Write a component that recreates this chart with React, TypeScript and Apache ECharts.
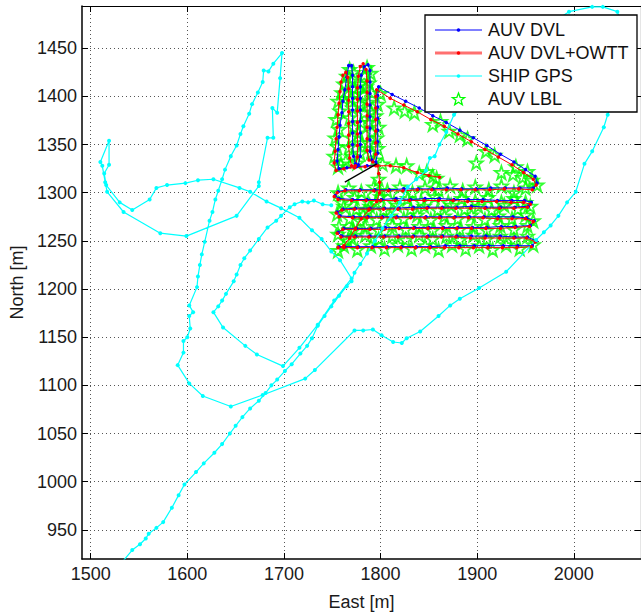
import React, { useEffect, useRef } from "react";
import * as echarts from "echarts";

const FONT = "'Liberation Sans', Arial, Helvetica, sans-serif";

const xTicks = [1500, 1600, 1700, 1800, 1900, 2000];
const yTicks = [950, 1000, 1050, 1100, 1150, 1200, 1250, 1300, 1350, 1400, 1450];
const xRange = [1491, 2069.5];
const yRange = [919.7, 1493.9];

const seriesNames = ["AUV DVL", "AUV DVL+OWTT", "SHIP GPS", "AUV LBL"];

const shipGps: number[][] = [
  [1533, 917], [1543, 929], [1551, 935], [1557, 941], [1560, 946], [1568, 952], [1575, 958], [1584, 973],
  [1591, 986], [1597, 997], [1609, 1010], [1617, 1019], [1628, 1030], [1636, 1039], [1644, 1050], [1650, 1058],
  [1657, 1067], [1665, 1076], [1674, 1084], [1681, 1092], [1687, 1100], [1693, 1106], [1701, 1115], [1708, 1122],
  [1717, 1133], [1724, 1141], [1729, 1149], [1735, 1162], [1742, 1172], [1749, 1182], [1757, 1193], [1765, 1203],
  [1770, 1208], [1773, 1217], [1779, 1226], [1786, 1237], [1794, 1250], [1802, 1263], [1811, 1276], [1820, 1290],
  [1828, 1306], [1837, 1314], [1847, 1323], [1851, 1336], [1856, 1338], [1861, 1350], [1868, 1363], [1876, 1381],
  [1892, 1397], [1908, 1412], [1923, 1426], [1939, 1441], [1954, 1456], [1967, 1468], [1980, 1478], [1995, 1488],
  [2019, 1493], [2030, 1493], [2045, 1488], [2053, 1464], [2049, 1428], [2042, 1402], [2035, 1381], [2031, 1368],
  [2019, 1343], [2011, 1330], [2002, 1301], [1993, 1290], [1984, 1276], [1976, 1266], [1969, 1259], [1961, 1251],
  [1930, 1218], [1902, 1201], [1882, 1190], [1872, 1183], [1860, 1172], [1841, 1156], [1827, 1149], [1822, 1144],
  [1813, 1145], [1801, 1152], [1792, 1158], [1782, 1157], [1773, 1157], [1732, 1116], [1722, 1107], [1678, 1090],
  [1645, 1078], [1616, 1089], [1602, 1102], [1590, 1121], [1596, 1134], [1596, 1146], [1600, 1150], [1603, 1159],
  [1602, 1172], [1606, 1176], [1602, 1183], [1610, 1202], [1611, 1213], [1613, 1225], [1615, 1236], [1618, 1249],
  [1623, 1271], [1626, 1280], [1629, 1293], [1632, 1302], [1636, 1314], [1639, 1324], [1645, 1338], [1651, 1349],
  [1655, 1361], [1658, 1369], [1664, 1382], [1667, 1392], [1673, 1404], [1678, 1415], [1679, 1427], [1684, 1426],
  [1689, 1434], [1698, 1445], [1696, 1419], [1693, 1383], [1688, 1388], [1689, 1357], [1683, 1357], [1674, 1311],
  [1674, 1307], [1651, 1276], [1599, 1255], [1572, 1258], [1534, 1280], [1517, 1301], [1515, 1311], [1512, 1328],
  [1510, 1332], [1519, 1354], [1519, 1329], [1514, 1320], [1516, 1308], [1530, 1290], [1543, 1282], [1561, 1293],
  [1568, 1305], [1579, 1308], [1598, 1310], [1611, 1313], [1627, 1314], [1654, 1305], [1665, 1301], [1682, 1291],
  [1697, 1284], [1716, 1274], [1729, 1261], [1739, 1252], [1749, 1239], [1758, 1230], [1770, 1211], [1752, 1188],
  [1735, 1163], [1716, 1139], [1699, 1120], [1672, 1132], [1660, 1141], [1637, 1160], [1627, 1176], [1632, 1182],
  [1636, 1188], [1640, 1195], [1648, 1208], [1651, 1215], [1655, 1225], [1659, 1232], [1665, 1240], [1674, 1252],
  [1683, 1264], [1692, 1271], [1697, 1276], [1706, 1285], [1711, 1288], [1719, 1291], [1725, 1290], [1731, 1292],
  [1740, 1288], [1749, 1287],
];

const auvDvl: number[][] = [
  [1796, 1329], [1786, 1328], [1775, 1327], [1765, 1326], [1757, 1325], [1755, 1333], [1756, 1345], [1757, 1358],
  [1758, 1370], [1760, 1383], [1761, 1395], [1763, 1407], [1765, 1420], [1767, 1432], [1770, 1432], [1771, 1422],
  [1771, 1410], [1771, 1398], [1771, 1386], [1771, 1374], [1771, 1362], [1771, 1350], [1772, 1338], [1774, 1330],
  [1777, 1329], [1779, 1338], [1779, 1350], [1779, 1362], [1779, 1374], [1779, 1386], [1779, 1398], [1779, 1410],
  [1780, 1422], [1783, 1431], [1787, 1433], [1789, 1427], [1789, 1415], [1789, 1403], [1789, 1391], [1789, 1379],
  [1789, 1367], [1789, 1355], [1789, 1343], [1791, 1334], [1795, 1332], [1797, 1341], [1797, 1353], [1797, 1365],
  [1797, 1377], [1797, 1389], [1797, 1401], [1798, 1410],
  [1812, 1402], [1826, 1395], [1840, 1388], [1854, 1380], [1868, 1373], [1882, 1365], [1896, 1357], [1910, 1349],
  [1924, 1340], [1938, 1332], [1950, 1324], [1960, 1317], [1962, 1310], [1958, 1305],
  [1944, 1305], [1929, 1305], [1914, 1305], [1899, 1304], [1884, 1304], [1869, 1305], [1854, 1304], [1839, 1304],
  [1824, 1304], [1809, 1303], [1794, 1303], [1779, 1303], [1764, 1303], [1756, 1301], [1753, 1297], [1757, 1294],
  [1771, 1293], [1786, 1293], [1801, 1293], [1816, 1294], [1831, 1293], [1846, 1294], [1861, 1294], [1876, 1293],
  [1891, 1293], [1906, 1293], [1921, 1292], [1936, 1292], [1949, 1292], [1956, 1290], [1953, 1286],
  [1939, 1285], [1924, 1285], [1909, 1285], [1894, 1286], [1879, 1285], [1864, 1285], [1849, 1285], [1834, 1285],
  [1819, 1284], [1804, 1284], [1789, 1284], [1774, 1284], [1761, 1283], [1755, 1280], [1758, 1276],
  [1772, 1275], [1787, 1275], [1802, 1275], [1817, 1275], [1832, 1275], [1847, 1275], [1862, 1275], [1877, 1275],
  [1892, 1275], [1907, 1275], [1922, 1275], [1937, 1275], [1951, 1274], [1959, 1271], [1955, 1266],
  [1940, 1265], [1925, 1265], [1910, 1264], [1895, 1264], [1880, 1264], [1865, 1264], [1850, 1264], [1835, 1264],
  [1820, 1264], [1805, 1264], [1790, 1263], [1775, 1263], [1762, 1263], [1756, 1259], [1760, 1255],
  [1774, 1255], [1789, 1255], [1804, 1255], [1819, 1255], [1834, 1255], [1849, 1255], [1864, 1255], [1879, 1255],
  [1894, 1255], [1909, 1255], [1924, 1255], [1939, 1254], [1952, 1254], [1961, 1250], [1957, 1245],
  [1942, 1245], [1927, 1245], [1912, 1245], [1897, 1245], [1882, 1245], [1867, 1245], [1852, 1244], [1837, 1244],
  [1822, 1244], [1807, 1244], [1792, 1244], [1777, 1244], [1763, 1244], [1757, 1244],
];

const auvDvlOwtt: number[][] = [
  [1795, 1328], [1784, 1327], [1773, 1326], [1762, 1325], [1754, 1323], [1752, 1331], [1753, 1343], [1754, 1356],
  [1755, 1368], [1756, 1381], [1757, 1393], [1758, 1405], [1759, 1415], [1761, 1422], [1764, 1425], [1766, 1420],
  [1767, 1408], [1767, 1396], [1767, 1384], [1767, 1372], [1767, 1360], [1767, 1348], [1768, 1336], [1770, 1328],
  [1774, 1328], [1776, 1337], [1776, 1349], [1776, 1361], [1776, 1373], [1776, 1385], [1776, 1397], [1776, 1409],
  [1777, 1421], [1779, 1431], [1782, 1434], [1785, 1428], [1786, 1416], [1786, 1404], [1786, 1392], [1786, 1380],
  [1786, 1368], [1786, 1356], [1786, 1344], [1788, 1334], [1792, 1332], [1795, 1340], [1795, 1352], [1795, 1364],
  [1795, 1376], [1795, 1388], [1795, 1400], [1796, 1407],
  [1810, 1398], [1824, 1391], [1838, 1384], [1852, 1376], [1866, 1369], [1880, 1361], [1894, 1353], [1908, 1345],
  [1922, 1337], [1936, 1329], [1948, 1321], [1958, 1314], [1961, 1308], [1957, 1303],
  [1943, 1304], [1928, 1304], [1913, 1303], [1898, 1303], [1883, 1303], [1868, 1303], [1853, 1303], [1838, 1303],
  [1823, 1302], [1808, 1302], [1793, 1302], [1778, 1302], [1763, 1302], [1755, 1300], [1752, 1296], [1756, 1293],
  [1770, 1292], [1785, 1292], [1800, 1292], [1815, 1292], [1830, 1292], [1845, 1292], [1860, 1292], [1875, 1292],
  [1890, 1291], [1905, 1291], [1920, 1291], [1935, 1290], [1948, 1290], [1955, 1288], [1952, 1285],
  [1938, 1284], [1923, 1284], [1908, 1284], [1893, 1284], [1878, 1284], [1863, 1284], [1848, 1284], [1833, 1283],
  [1818, 1283], [1803, 1283], [1788, 1283], [1773, 1283], [1760, 1282], [1754, 1279], [1757, 1275],
  [1771, 1274], [1786, 1274], [1801, 1274], [1816, 1274], [1831, 1274], [1846, 1274], [1861, 1274], [1876, 1274],
  [1891, 1274], [1906, 1274], [1921, 1273], [1936, 1273], [1950, 1273], [1958, 1270], [1954, 1265],
  [1939, 1264], [1924, 1263], [1909, 1263], [1894, 1263], [1879, 1263], [1864, 1263], [1849, 1263], [1834, 1263],
  [1819, 1263], [1804, 1262], [1789, 1262], [1774, 1262], [1761, 1262], [1755, 1258], [1759, 1254],
  [1773, 1254], [1788, 1254], [1803, 1254], [1818, 1254], [1833, 1254], [1848, 1254], [1863, 1254], [1878, 1254],
  [1893, 1253], [1908, 1253], [1923, 1253], [1938, 1253], [1951, 1253], [1960, 1249], [1956, 1244],
  [1941, 1243], [1926, 1243], [1911, 1243], [1896, 1243], [1881, 1243], [1866, 1243], [1851, 1243], [1836, 1243],
  [1821, 1243], [1806, 1243], [1791, 1243], [1776, 1243], [1762, 1243], [1756, 1243],
  [1762, 1245], [1768, 1253], [1774, 1263], [1780, 1273], [1788, 1282], [1796, 1291], [1799, 1300], [1799, 1311],
  [1798, 1320], [1797, 1328], [1810, 1328], [1824, 1326], [1838, 1321], [1850, 1318], [1861, 1316],
];

const auvLbl: number[][] = [
  [1756, 1327], [1759, 1330], [1752, 1338], [1755, 1348], [1753, 1357], [1757, 1366], [1754, 1376], [1758, 1385],
  [1756, 1395], [1760, 1404], [1762, 1413], [1765, 1421], [1768, 1428], [1772, 1425], [1770, 1416], [1773, 1408],
  [1769, 1398], [1771, 1388], [1768, 1378], [1772, 1368], [1770, 1357], [1767, 1347], [1771, 1338], [1776, 1331],
  [1779, 1341], [1781, 1352], [1777, 1362], [1780, 1373], [1783, 1383], [1778, 1392], [1781, 1402], [1779, 1413],
  [1783, 1422], [1786, 1430], [1790, 1424], [1788, 1414], [1791, 1404], [1787, 1394], [1790, 1384], [1788, 1373],
  [1791, 1363], [1787, 1352], [1790, 1342], [1794, 1334], [1797, 1346], [1796, 1357], [1798, 1368], [1795, 1380],
  [1797, 1392], [1800, 1403], [1762, 1398], [1775, 1403], [1785, 1410], [1764, 1333],
  [1814, 1388], [1825, 1385], [1835, 1383], [1854, 1371], [1862, 1374], [1871, 1364], [1882, 1360], [1890, 1356],
  [1899, 1331], [1909, 1343], [1918, 1339], [1925, 1321], [1937, 1319], [1940, 1327], [1947, 1316], [1952, 1322],
  [1957, 1313], [1962, 1308],
  [1802, 1330], [1816, 1328], [1827, 1328], [1840, 1320], [1848, 1322], [1854, 1317], [1858, 1315],
  [1950, 1305], [1938, 1300], [1925, 1307], [1912, 1303], [1898, 1306], [1885, 1302], [1872, 1307], [1860, 1303],
  [1846, 1305], [1833, 1300], [1820, 1306], [1807, 1302], [1793, 1306], [1780, 1301], [1767, 1305], [1756, 1300],
  [1760, 1290], [1773, 1295], [1787, 1291], [1800, 1296], [1814, 1290], [1828, 1294], [1842, 1291], [1856, 1296],
  [1870, 1290], [1884, 1294], [1898, 1291], [1911, 1295], [1925, 1290], [1938, 1294], [1950, 1290],
  [1955, 1286], [1942, 1283], [1928, 1287], [1915, 1282], [1901, 1286], [1887, 1283], [1873, 1287], [1859, 1282],
  [1845, 1286], [1831, 1283], [1817, 1287], [1803, 1282], [1789, 1286], [1775, 1283], [1762, 1286],
  [1755, 1278], [1768, 1273], [1782, 1277], [1796, 1272], [1810, 1276], [1824, 1273], [1838, 1277], [1852, 1272],
  [1866, 1276], [1880, 1273], [1894, 1277], [1908, 1272], [1922, 1276], [1936, 1273], [1950, 1277], [1958, 1271],
  [1952, 1266], [1938, 1262], [1924, 1266], [1910, 1261], [1896, 1265], [1882, 1262], [1868, 1266], [1854, 1261],
  [1840, 1265], [1826, 1262], [1812, 1266], [1798, 1261], [1784, 1265], [1770, 1262], [1757, 1265],
  [1756, 1257], [1770, 1253], [1784, 1256], [1798, 1252], [1812, 1255], [1826, 1251], [1840, 1256], [1854, 1252],
  [1868, 1255], [1882, 1251], [1896, 1256], [1910, 1252], [1924, 1255], [1938, 1251], [1952, 1255],
  [1958, 1246], [1944, 1242], [1930, 1246], [1916, 1241], [1902, 1245], [1888, 1242], [1874, 1246], [1860, 1241],
  [1846, 1245], [1832, 1242], [1818, 1246], [1804, 1242], [1790, 1245], [1776, 1241], [1762, 1245], [1756, 1240],
  [1766, 1250], [1772, 1261], [1779, 1271], [1787, 1281], [1795, 1290], [1799, 1302], [1798, 1314],
];

const arrowStart = [1763, 1311];
const arrowEnd = [1796, 1330];

const STAR =
  "path://M50,0 L61.8,34.5 L97.6,34.5 L68.8,56 L79.4,90.5 L50,69 L20.6,90.5 L31.2,56 L2.4,34.5 L38.2,34.5 Z";

function starPoints(cx: number, cy: number, r: number): number[][] {
  const pts: number[][] = [];
  for (let i = 0; i < 10; i++) {
    const a = -Math.PI / 2 + (i * Math.PI) / 5;
    const rr = i % 2 === 0 ? r : r * 0.42;
    pts.push([cx + rr * Math.cos(a), cy + rr * Math.sin(a)]);
  }
  return pts;
}

export default function App() {
  const ref = useRef<HTMLDivElement>(null);

  useEffect(() => {
    if (!ref.current) return;
    const chart = echarts.init(ref.current, null, { renderer: "svg" });

    const gridLine = { show: true, lineStyle: { color: "#555", width: 1, type: [1, 3] as any } };
    const label = { fontSize: 18, color: "#1a1a1a", fontFamily: FONT };
    const plain = (v: number) => String(v);

    const legendRows = [30, 53, 76, 99];
    const legendColors = ["#0000ff", "#ff0000", "#00ffff"];
    const legendLineColors = ["#0000ff", "#ff7070", "#00ffff"];
    const legendLineWidths = [1, 3, 1];
    const legendChildren: any[] = [
      {
        type: "rect",
        shape: { x: 425, y: 15, width: 212, height: 97 },
        style: { fill: "#fff", stroke: "#000", lineWidth: 1.3 },
        z: 100,
      },
    ];
    for (let i = 0; i < 3; i++) {
      legendChildren.push({
        type: "line",
        shape: { x1: 435, y1: legendRows[i], x2: 482, y2: legendRows[i] },
        style: { stroke: legendLineColors[i], lineWidth: legendLineWidths[i] },
        z: 101,
      });
      legendChildren.push({
        type: "circle",
        shape: { cx: 458.5, cy: legendRows[i], r: 1.8 },
        style: { fill: legendColors[i] },
        z: 102,
      });
    }
    legendChildren.push({
      type: "polygon",
      shape: { points: starPoints(458.5, legendRows[3] + 0.5, 6.5) },
      style: { fill: "none", stroke: "#00ff00", lineWidth: 1.3 },
      z: 102,
    });
    seriesNames.forEach((n, i) => {
      legendChildren.push({
        type: "text",
        x: 488,
        y: legendRows[i],
        style: {
          text: n,
          fontSize: 18,
          fontFamily: FONT,
          fill: "#111",
          verticalAlign: "middle",
        },
        z: 102,
      });
    });

    const option: any = {
      animation: false,
      backgroundColor: "#fff",
      grid: { left: 82, top: 6, width: 560, height: 556, containLabel: false },
      xAxis: [
        {
          type: "value",
          position: "bottom",
          min: xRange[0],
          max: xRange[1],
          axisLine: { show: true, onZero: false, lineStyle: { color: "#000", width: 1.5 } },
          axisTick: { show: true, inside: true, length: 6, customValues: xTicks, lineStyle: { color: "#000" } },
          axisLabel: { ...label, margin: 6, customValues: xTicks, formatter: plain },
          splitLine: gridLine,
          name: "East [m]",
          nameLocation: "middle",
          nameGap: 34,
          nameTextStyle: label,
        },
        {
          type: "value",
          position: "top",
          min: xRange[0],
          max: xRange[1],
          axisLine: { show: true, onZero: false, lineStyle: { color: "#000", width: 1.2 } },
          axisTick: { show: true, inside: true, length: 6, customValues: xTicks, lineStyle: { color: "#000" } },
          axisLabel: { show: false },
          splitLine: { show: false },
        },
      ],
      yAxis: [
        {
          type: "value",
          position: "left",
          min: yRange[0],
          max: yRange[1],
          axisLine: { show: true, onZero: false, lineStyle: { color: "#000", width: 1.5 } },
          axisTick: { show: true, inside: true, length: 6, customValues: yTicks, lineStyle: { color: "#000" } },
          axisLabel: { ...label, margin: 5, customValues: yTicks, formatter: plain },
          splitLine: gridLine,
          name: "North [m]",
          nameLocation: "middle",
          nameGap: 55,
          nameRotate: 90,
          nameTextStyle: label,
        },
        {
          type: "value",
          position: "right",
          min: yRange[0],
          max: yRange[1],
          axisLine: { show: true, onZero: false, lineStyle: { color: "#000", width: 1.2 } },
          axisTick: { show: true, inside: true, length: 6, customValues: yTicks, lineStyle: { color: "#000" } },
          axisLabel: { show: false },
          splitLine: { show: false },
        },
      ],
      series: [
        {
          name: seriesNames[0],
          type: "line",
          data: auvDvl,
          clip: true,
          symbol: "circle",
          symbolSize: 3.5,
          showSymbol: true,
          itemStyle: { color: "#0000ff" },
          lineStyle: { color: "#0000ff", width: 1 },
        },
        {
          name: seriesNames[1],
          type: "line",
          data: auvDvlOwtt,
          clip: true,
          symbol: "circle",
          symbolSize: 3.5,
          showSymbol: true,
          itemStyle: { color: "#ff0000" },
          lineStyle: { color: "#ff0000", width: 1 },
        },
        {
          name: seriesNames[2],
          type: "line",
          data: shipGps,
          clip: true,
          symbol: "circle",
          symbolSize: 4,
          showSymbol: true,
          itemStyle: { color: "#00ffff" },
          lineStyle: { color: "#00ffff", width: 1.2 },
        },
        {
          name: seriesNames[3],
          type: "scatter",
          data: auvLbl,
          clip: true,
          symbol: STAR,
          symbolSize: 13,
          itemStyle: { color: "rgba(0,0,0,0)", borderColor: "#00ff00", borderWidth: 1.8 },
          markLine: {
            silent: true,
            z: 20,
            symbol: ["none", "arrow"],
            symbolSize: [0, 12],
            label: { show: false },
            lineStyle: { color: "#000", width: 1.3, type: "solid" },
            data: [[{ coord: arrowStart }, { coord: arrowEnd }]],
          },
        },
      ],
      graphic: [{ type: "group", children: legendChildren }],
    };

    chart.setOption(option);
    return () => chart.dispose();
  }, []);

  return (
    <div
      ref={ref}
      style={{ position: "absolute", left: 0, top: 0, width: 641, height: 616, background: "#fff" }}
    />
  );
}
